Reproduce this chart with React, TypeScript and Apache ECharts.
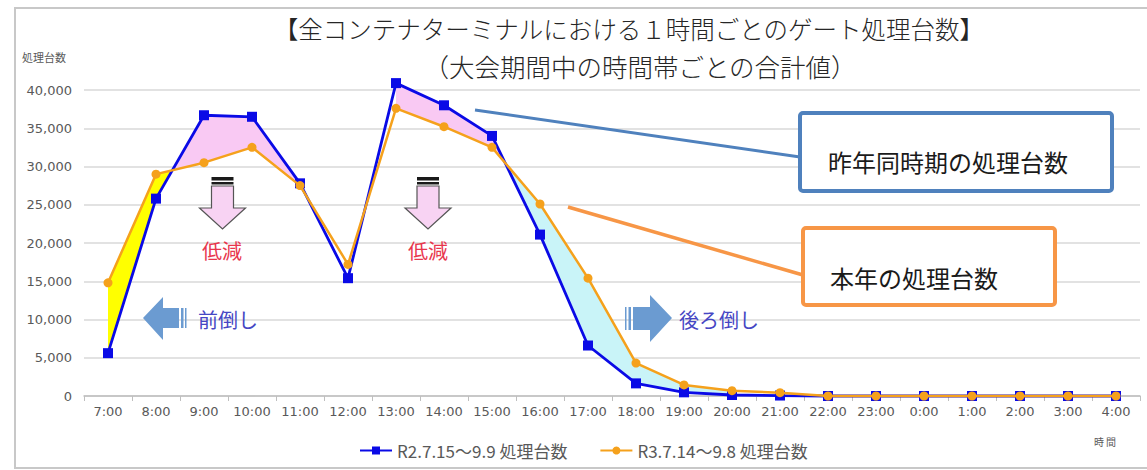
import React, { useEffect, useRef } from 'react';
import * as echarts from 'echarts';

const categories = ['7:00', '8:00', '9:00', '10:00', '11:00', '12:00', '13:00', '14:00', '15:00', '16:00', '17:00', '18:00', '19:00', '20:00', '21:00', '22:00', '23:00', '0:00', '1:00', '2:00', '3:00', '4:00'];
const r2Name = 'R2.7.15～9.9 処理台数';
const r3Name = 'R3.7.14～9.8 処理台数';
const r2Values = [5600, 25800, 36700, 36500, 27800, 15400, 40900, 38000, 34000, 21100, 6600, 1650, 480, 130, 60, 0, 0, 0, 0, 0, 0, 0];
const r3Values = [14800, 29000, 30500, 32500, 27500, 17200, 37600, 35200, 32500, 25100, 15400, 4300, 1450, 700, 430, 0, 0, 0, 0, 0, 0, 0];
// segments (start category index) where the gap between the two lines is shaded
const fillSegments = [0, 1, 2, 3, 6, 7, 8, 9, 10, 11, 12];

const titleText = '【全コンテナターミナルにおける１時間ごとのゲート処理台数】';
const subTitleText = '（大会期間中の時間帯ごとの合計値）';

const JP = '"Noto Sans CJK JP", "Noto Sans", sans-serif';

export default function App() {
  const ref = useRef<HTMLDivElement>(null);
  useEffect(() => {
    document.body.style.margin = '0';
    const chart = echarts.init(ref.current as HTMLDivElement, null, { renderer: 'svg' });

    const txt = (text: string, x: number, y: number, size: number, fill: string, align = 'center', weight: any = 'normal') => ({
      type: 'text',
      z: 100,
      style: {
        text, x, y, fill, fontSize: size, fontFamily: JP, fontWeight: weight,
        align, verticalAlign: 'middle', textAlign: align, textVerticalAlign: 'middle',
      },
    });

    const downArrow = (cx: number) => [
      {
        type: 'polygon', z: 100,
        shape: { points: [[cx - 11, 186], [cx + 11, 186], [cx + 11, 208], [cx + 23, 208], [cx, 229], [cx - 23, 208], [cx - 11, 208]] },
        style: { fill: '#f8d3f3', stroke: '#555555', lineWidth: 1.2 },
      },
      { type: 'rect', z: 100, shape: { x: cx - 11, y: 177, width: 22, height: 3.5 }, style: { fill: '#1a1a1a' } },
      { type: 'rect', z: 100, shape: { x: cx - 11, y: 182, width: 22, height: 2.5 }, style: { fill: '#1a1a1a' } },
    ];

    const arrowBlue = '#6b9bd1';

    const graphics: any[] = [
      { type: 'rect', z: 0, shape: { x: 15, y: 8, width: 1140, height: 460 }, style: { fill: 'none', stroke: '#c8c8c8', lineWidth: 2 } },
      txt(titleText, 629, 28, 24.5, '#262626', 'center', 300),
      txt(subTitleText, 640, 65, 25.5, '#262626', 'center', 300),
      txt('処理台数', 22, 57, 11, '#595959', 'left'),
      txt('時 間', 1105, 441, 10, '#595959'),
      ...downArrow(222.5),
      ...downArrow(428),
      txt('低減', 222, 250, 20, '#e8364d'),
      txt('低減', 428, 250, 20, '#e8364d'),
      {
        type: 'polygon', z: 100,
        shape: { points: [[143, 318], [163, 297], [163, 308], [179, 308], [179, 328], [163, 328], [163, 340]] },
        style: { fill: arrowBlue },
      },
      { type: 'rect', z: 100, shape: { x: 181, y: 308, width: 2.5, height: 20 }, style: { fill: arrowBlue } },
      { type: 'rect', z: 100, shape: { x: 185, y: 308, width: 1.5, height: 20 }, style: { fill: arrowBlue } },
      txt('前倒し', 198, 319, 20, '#4646c4', 'left'),
      {
        type: 'polygon', z: 100,
        shape: { points: [[672, 318], [650, 295], [650, 307], [633, 307], [633, 330], [650, 330], [650, 342]] },
        style: { fill: arrowBlue },
      },
      { type: 'rect', z: 100, shape: { x: 625, y: 307, width: 1.5, height: 23 }, style: { fill: arrowBlue } },
      { type: 'rect', z: 100, shape: { x: 628.5, y: 307, width: 2.5, height: 23 }, style: { fill: arrowBlue } },
      txt('後ろ倒し', 679, 319, 20, '#4646c4', 'left'),
      // callouts
      { type: 'line', z: 100, shape: { x1: 475, y1: 110, x2: 800, y2: 157 }, style: { stroke: '#4f81bd', lineWidth: 3 } },
      { type: 'rect', z: 100, shape: { x: 800, y: 113, width: 312, height: 78, r: 3 }, style: { fill: '#ffffff', stroke: '#4f81bd', lineWidth: 4 } },
      txt('昨年同時期の処理台数', 828, 161, 24, '#1a1a1a', 'left'),
      { type: 'line', z: 100, shape: { x1: 568, y1: 207, x2: 803, y2: 275 }, style: { stroke: '#f79646', lineWidth: 3.5 } },
      { type: 'rect', z: 100, shape: { x: 803, y: 228, width: 252, height: 77, r: 3 }, style: { fill: '#ffffff', stroke: '#f79646', lineWidth: 4 } },
      txt('本年の処理台数', 830, 277, 24, '#1a1a1a', 'left'),
    ];

    const option: any = {
      animation: false,
      backgroundColor: '#ffffff',
      grid: { left: 84, right: 7, top: 90, bottom: 74 },
      legend: {
        left: 354, top: 437, itemWidth: 32, itemHeight: 10, itemGap: 32,
        textStyle: { fontSize: 17, color: '#595959', fontFamily: JP },
        data: [r2Name, r3Name],
      },
      xAxis: {
        type: 'category',
        data: categories,
        boundaryGap: true,
        axisLine: { lineStyle: { color: '#bfbfbf', width: 1.5 } },
        axisTick: { show: true, length: 5, lineStyle: { color: '#bfbfbf' } },
        axisLabel: { color: '#595959', fontSize: 13, fontFamily: '"DejaVu Sans", sans-serif', margin: 9, interval: 0 },
      },
      yAxis: {
        type: 'value',
        min: 0, max: 40000, interval: 5000,
        axisLine: { show: false },
        axisTick: { show: false },
        splitLine: { lineStyle: { color: '#d9d9d9', width: 1.5 } },
        axisLabel: {
          color: '#595959', fontSize: 13, fontFamily: '"DejaVu Sans", sans-serif', margin: 12,
          formatter: (v: number) => v.toLocaleString('en-US'),
        },
      },
      series: [
        {
          type: 'custom',
          name: 'gap',
          z: 1,
          silent: true,
          data: fillSegments.map((i) => [i, r2Values[i]]),
          renderItem: (params: any, api: any) => {
            const i = api.value(0) as number;
            const b0 = api.coord([i, r2Values[i]]);
            const b1 = api.coord([i + 1, r2Values[i + 1]]);
            const o0 = api.coord([i, r3Values[i]]);
            const o1 = api.coord([i + 1, r3Values[i + 1]]);
            const d0 = r2Values[i] - r3Values[i];
            const d1 = r2Values[i + 1] - r3Values[i + 1];
            const colorOf = (d: number) => (d > 0 ? '#f9c9f3' : i < 3 ? '#ffff00' : '#c9f4f8');
            if (d0 * d1 >= 0) {
              return {
                type: 'polygon',
                shape: { points: [b0, b1, o1, o0] },
                style: { fill: colorOf(d0 !== 0 ? d0 : d1) },
              };
            }
            const t = d0 / (d0 - d1);
            const p = [b0[0] + t * (b1[0] - b0[0]), b0[1] + t * (b1[1] - b0[1])];
            return {
              type: 'group',
              children: [
                { type: 'polygon', shape: { points: [b0, p, o0] }, style: { fill: colorOf(d0) } },
                { type: 'polygon', shape: { points: [p, b1, o1] }, style: { fill: colorOf(d1) } },
              ],
            };
          },
        },
        {
          type: 'line',
          name: r2Name,
          data: r2Values,
          z: 3,
          clip: false,
          symbol: 'rect',
          symbolSize: 10,
          itemStyle: { color: '#0a0ae6' },
          lineStyle: { color: '#0a0ae6', width: 2.8 },
        },
        {
          type: 'line',
          name: r3Name,
          data: r3Values,
          z: 4,
          clip: false,
          symbol: 'circle',
          symbolSize: 9,
          itemStyle: { color: '#f5a11c' },
          lineStyle: { color: '#f5a11c', width: 2.5 },
        },
      ],
      graphic: graphics,
    };
    chart.setOption(option);
    return () => chart.dispose();
  }, []);
  return <div ref={ref} style={{ width: 1147, height: 470, position: 'absolute', left: 0, top: 0 }} />;
}
